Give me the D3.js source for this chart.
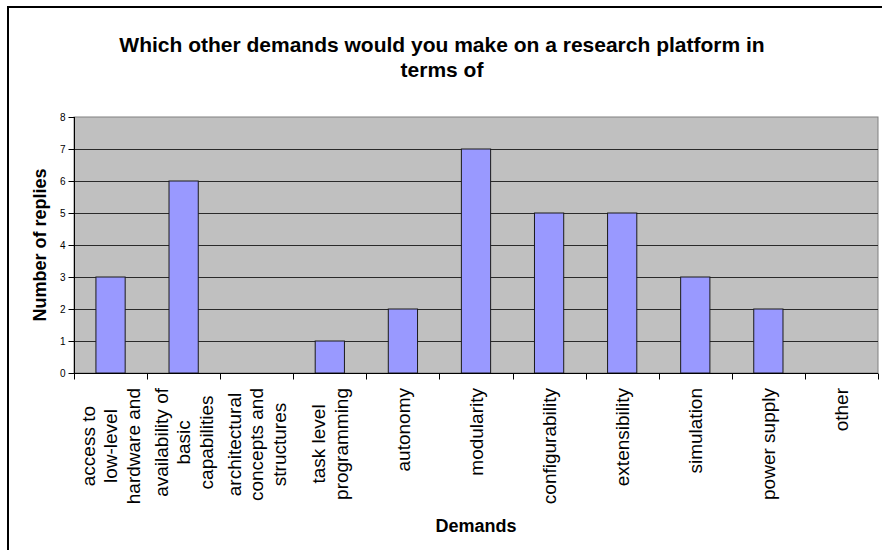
<!DOCTYPE html>
<html>
<head>
<meta charset="utf-8">
<script src="https://cdn.jsdelivr.net/npm/d3@7"></script>
<style>
  html, body { margin: 0; padding: 0; background: #fff; }
  svg { display: block; font-family: "Liberation Sans", Arial, sans-serif; }
</style>
</head>
<body>
<svg id="chart" width="882" height="550"></svg>
<script>
// Survey answers: number of replies per demand
const categories = [
  "access to low-level hardware and",
  "availability of basic capabilities",
  "architectural concepts and structures",
  "task level programming",
  "autonomy",
  "modularity",
  "configurability",
  "extensibility",
  "simulation",
  "power supply",
  "other"
];
// wrapped tick labels, one array of lines per category
const categoryLines = [
  ["access to", "low-level", "hardware and"],
  ["availability of", "basic", "capabilities"],
  ["architectural", "concepts and", "structures"],
  ["task level", "programming"],
  ["autonomy"],
  ["modularity"],
  ["configurability"],
  ["extensibility"],
  ["simulation"],
  ["power supply"],
  ["other"]
];
const replies = [3, 6, 0, 1, 2, 7, 5, 5, 3, 2, 0];
const yTicks = [0, 1, 2, 3, 4, 5, 6, 7, 8];

const titleLines = ["Which other demands would you make on a research platform in", "terms of"];
const xTitle = "Demands";
const yTitle = "Number of replies";

const svg = d3.select("#chart");
const W = 882, H = 550;
const plot = { left: 74, right: 878, top: 117, bottom: 373 };

// chart frame (runs off the right and bottom edges)
svg.append("rect")
  .attr("x", 8).attr("y", 7)
  .attr("width", W + 20).attr("height", H + 20)
  .attr("fill", "#fff")
  .attr("stroke", "#000").attr("stroke-width", 2);

const x = d3.scaleBand()
  .domain(categories)
  .range([plot.left, plot.right])
  .padding(0);

const y = d3.scaleLinear()
  .domain([0, 8])
  .range([plot.bottom, plot.top]);

// plot area
svg.append("rect")
  .attr("x", plot.left).attr("y", plot.top)
  .attr("width", plot.right - plot.left)
  .attr("height", plot.bottom - plot.top)
  .attr("fill", "#c0c0c0")
  .attr("stroke", "#808080").attr("stroke-width", 1);

// horizontal gridlines
svg.append("g")
  .selectAll("line")
  .data(yTicks.filter(d => d > 0 && d < 8))
  .join("line")
  .attr("x1", plot.left).attr("x2", plot.right)
  .attr("y1", d => Math.round(y(d)) + 0.5)
  .attr("y2", d => Math.round(y(d)) + 0.5)
  .attr("stroke", "#2a2a2a").attr("stroke-width", 1);

// bars
const barW = x.bandwidth() * 0.4;
svg.append("g")
  .selectAll("rect")
  .data(categories.map((c, i) => ({ c, v: replies[i] })).filter(d => d.v > 0))
  .join("rect")
  .attr("x", d => x(d.c) + (x.bandwidth() - barW) / 2)
  .attr("y", d => y(d.v))
  .attr("width", barW)
  .attr("height", d => y(0) - y(d.v))
  .attr("fill", "#9999ff")
  .attr("stroke", "#1a1a1a").attr("stroke-width", 1);

// y axis
const yAxis = d3.axisLeft(y)
  .tickValues(yTicks)
  .tickSize(6)
  .tickPadding(3)
  .tickFormat(d3.format("d"));
const gy = svg.append("g")
  .attr("transform", `translate(${plot.left + 0.5},0)`)
  .call(yAxis);
gy.selectAll("text").attr("font-size", 10).attr("fill", "#000")
  .attr("font-family", "Liberation Sans, Arial, sans-serif");
gy.selectAll("line, path").attr("stroke", "#000");
gy.select(".domain").attr("d", `M0,${plot.top}V${plot.bottom}`);

// x axis: ticks on category boundaries
const boundaries = d3.range(categories.length + 1).map(i => plot.left + i * x.step());
const gx = svg.append("g").attr("transform", `translate(0,${plot.bottom + 0.5})`);
gx.append("line")
  .attr("x1", plot.left).attr("x2", plot.right)
  .attr("stroke", "#000");
gx.selectAll("line.tick")
  .data(boundaries)
  .join("line")
  .attr("class", "tick")
  .attr("x1", d => Math.round(d) + 0.5).attr("x2", d => Math.round(d) + 0.5)
  .attr("y1", 0).attr("y2", 6)
  .attr("stroke", "#000");

// rotated, wrapped category labels
const labelTop = 388, lineGap = 22.5, labelSize = 19;
categories.forEach((c, i) => {
  const lines = categoryLines[i];
  const cx = x(c) + x.bandwidth() / 2;
  const g = svg.append("g")
    .attr("transform", `translate(${cx},${labelTop}) rotate(-90)`);
  const texts = g.selectAll("text")
    .data(lines)
    .join("text")
    .attr("font-size", labelSize)
    .attr("fill", "#000")
    .attr("text-anchor", "middle")
    .attr("y", (d, k) => (k - (lines.length - 1) / 2) * lineGap)
    .attr("dy", "0.35em")
    .text(d => d);
  let maxW = 0;
  texts.each(function () { maxW = Math.max(maxW, this.getComputedTextLength()); });
  texts.attr("x", -maxW / 2);
});

// chart title
svg.append("text")
  .attr("x", 442).attr("y", 52)
  .attr("text-anchor", "middle")
  .attr("font-size", 21).attr("font-weight", "bold")
  .selectAll("tspan")
  .data(titleLines)
  .join("tspan")
  .attr("x", 442)
  .attr("dy", (d, i) => i === 0 ? 0 : 25)
  .text(d => d);

// axis titles
svg.append("text")
  .attr("x", (plot.left + plot.right) / 2).attr("y", 532)
  .attr("text-anchor", "middle")
  .attr("font-size", 18).attr("font-weight", "bold")
  .text(xTitle);

svg.append("text")
  .attr("transform", `translate(46,${(plot.top + plot.bottom) / 2}) rotate(-90)`)
  .attr("text-anchor", "middle")
  .attr("font-size", 18).attr("font-weight", "bold")
  .text(yTitle);
</script>
</body>
</html>
